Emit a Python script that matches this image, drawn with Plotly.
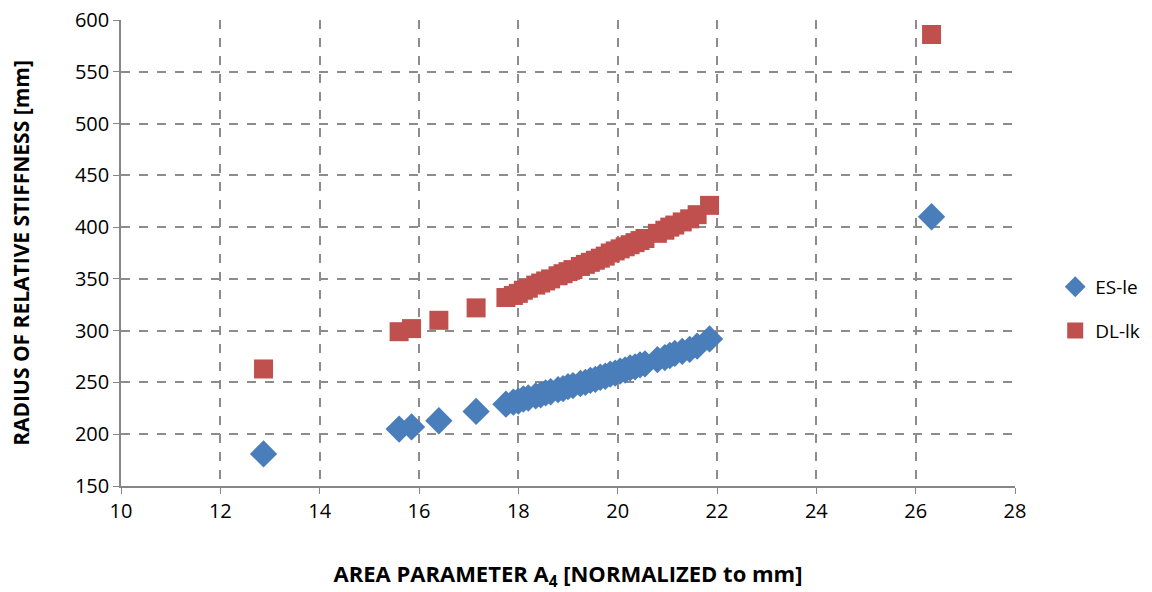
import plotly.graph_objects as go

area = [12.87, 15.6, 15.85, 16.4, 17.15, 17.75, 17.9, 18.0, 18.1, 18.2, 18.35, 18.45, 18.55,
        18.65, 18.8, 18.9, 19.0, 19.1, 19.25, 19.35, 19.45, 19.55, 19.65, 19.75, 19.85,
        19.95, 20.05, 20.15, 20.25, 20.35, 20.45, 20.55, 20.8, 20.95, 21.05, 21.15, 21.3,
        21.45, 21.6, 21.85, 26.32]
es_le = [181, 205, 207, 213, 222, 229, 231, 232, 234, 235, 237, 238, 240,
         241, 243, 244, 246, 247, 249, 250, 252, 253, 255, 256, 258,
         259, 261, 262, 264, 265, 267, 268, 272, 274, 276, 278, 280,
         282, 285, 292, 410]
dl_lk = [263, 299, 302, 310, 322, 332, 334, 336, 339, 341, 344, 346, 348,
         350, 353, 355, 357, 359, 362, 364, 366, 368, 370, 372, 375,
         377, 379, 381, 383, 385, 387, 389, 394, 397, 400, 402, 405,
         408, 412, 421, 586]

fig = go.Figure()
fig.add_trace(go.Scatter(x=area, y=es_le, mode="markers", name="ES-le", legendgroup="a",
                         marker=dict(symbol="diamond", size=21, color="#4a7ebb")))
fig.add_trace(go.Scatter(x=area, y=dl_lk, mode="markers", name="DL-lk", legendgroup="b",
                         marker=dict(symbol="square", size=19, color="#c0504d")))

grid = dict(showgrid=True, gridcolor="#8c8c8c", griddash="dash", gridwidth=1.5)
fig.update_xaxes(range=[10, 28], dtick=2, tick0=10, ticks="outside", ticklen=6,
                 tickcolor="#868686", showline=True, linecolor="#868686", linewidth=1.5,
                 zeroline=False, tickfont=dict(size=20, color="#000"),
                 title=dict(text="<b>AREA PARAMETER A<sub>4</sub> [NORMALIZED to mm]</b>",
                            font=dict(size=22, color="#000"), standoff=46), **grid)
fig.update_yaxes(range=[150, 600], dtick=50, ticks="outside", ticklen=6,
                 tickcolor="#868686", showline=True, linecolor="#868686", linewidth=1.5,
                 zeroline=False, tickfont=dict(size=20, color="#000"),
                 title=dict(text="<b>RADIUS OF RELATIVE STIFFNESS [mm]</b>",
                            font=dict(size=21, color="#000"), standoff=40), **grid)
fig.update_layout(
    width=1152, height=592,
    margin=dict(l=121, r=137, t=20, b=106, autoexpand=False),
    paper_bgcolor="white", plot_bgcolor="white",
    font=dict(family="Open Sans, sans-serif", color="#000"),
    legend=dict(x=1.045, y=0.38, yanchor="middle", xanchor="left",
                font=dict(size=19), tracegroupgap=16, itemsizing="trace"),
)
fig.write_html("out.html")
